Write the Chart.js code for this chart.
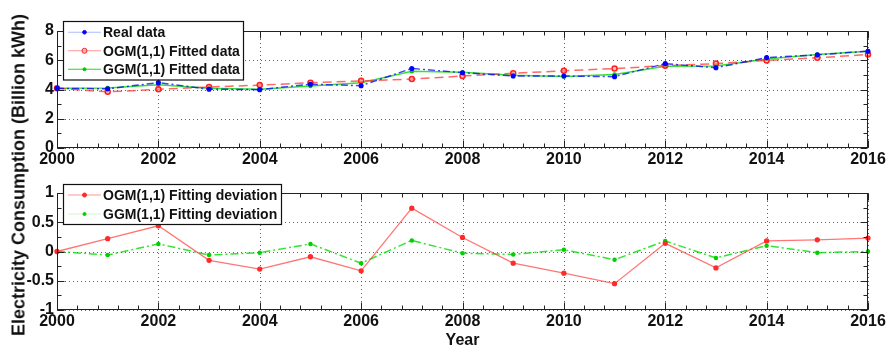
<!DOCTYPE html>
<html>
<head>
<meta charset="utf-8">
<script src="https://cdn.jsdelivr.net/npm/chart.js@4.4.1/dist/chart.umd.min.js"></script>
<style>
  html, body { margin: 0; padding: 0; background: #fff; }
  #wrap { position: relative; width: 889px; height: 350px; overflow: hidden; }
  canvas { position: absolute; left: 0; }
  #top { top: 0; }
  #bottom { top: 170px; }
  #ylab {
    position: absolute; left: 19px; top: 175px;
    transform: translate(-50%, -50%) rotate(-90deg);
    white-space: nowrap;
    font: bold 18px "Liberation Sans", Arial, sans-serif;
    color: #111;
  }
</style>
</head>
<body>
<div id="wrap">
  <canvas id="top" width="889" height="170"></canvas>
  <canvas id="bottom" width="889" height="180"></canvas>
  <div id="ylab">Electricity Consumption (Billion kWh)</div>
</div>
<script>
// Years on the horizontal axis
const years = [2000, 2001, 2002, 2003, 2004, 2005, 2006, 2007, 2008,
               2009, 2010, 2011, 2012, 2013, 2014, 2015, 2016];

// Electricity consumption, billion kWh
const realData = [4.08, 4.05, 4.47, 4.02, 3.99, 4.36, 4.26, 5.44, 5.15,
                  4.92, 4.92, 4.88, 5.77, 5.49, 6.18, 6.37, 6.62];
const ogmFitted = [4.08, 3.84, 4.01, 4.17, 4.30, 4.46, 4.59, 4.71, 4.92,
                   5.11, 5.28, 5.43, 5.63, 5.77, 5.99, 6.17, 6.39];
const ggmFitted = [4.08, 4.11, 4.33, 4.08, 4.01, 4.24, 4.46, 5.25, 5.18,
                   4.97, 4.89, 5.02, 5.59, 5.60, 6.08, 6.39, 6.62];

// Fitting deviations (real minus fitted)
const ogmDeviation = [0.00, 0.22, 0.44, -0.15, -0.30, -0.09, -0.33, 0.74, 0.24,
                      -0.20, -0.37, -0.55, 0.14, -0.28, 0.18, 0.20, 0.23];
const ggmDeviation = [0.00, -0.06, 0.13, -0.06, -0.02, 0.13, -0.20, 0.19, -0.03,
                      -0.05, 0.03, -0.14, 0.18, -0.11, 0.10, -0.02, 0.00];

// Tick values
const xTicks = [2000, 2002, 2004, 2006, 2008, 2010, 2012, 2014, 2016];
const topYTicks = [0, 2, 4, 6, 8];
const bottomYTicks = [-1, -0.5, 0, 0.5, 1];

const FONT = '"Liberation Sans", Arial, sans-serif';
const pts = vals => vals.map((v, i) => ({ x: years[i], y: v }));

// MATLAB-like axes box: dotted grid, inward major/minor ticks, framed legend
const boxPlugin = {
  id: 'matlabBox',
  beforeDatasetsDraw(chart, args, opts) {
    const { ctx, chartArea: a } = chart;
    const xs = chart.scales.x, ys = chart.scales.y;
    ctx.save();
    ctx.strokeStyle = 'rgba(60,60,60,0.8)';
    ctx.lineWidth = 1;
    ctx.setLineDash([1, 3]);
    opts.xMajor.forEach(v => {
      const px = Math.round(xs.getPixelForValue(v)) + 0.5;
      ctx.beginPath(); ctx.moveTo(px, a.top); ctx.lineTo(px, a.bottom); ctx.stroke();
    });
    opts.yMajor.forEach(v => {
      const py = Math.round(ys.getPixelForValue(v)) + 0.5;
      ctx.beginPath(); ctx.moveTo(a.left, py); ctx.lineTo(a.right, py); ctx.stroke();
    });
    ctx.restore();
  },
  afterDatasetsDraw(chart, args, opts) {
    const { ctx, chartArea: a } = chart;
    const xs = chart.scales.x, ys = chart.scales.y;
    ctx.save();
    ctx.setLineDash([]);
    ctx.strokeStyle = '#222';
    ctx.lineWidth = 1;
    const L = Math.round(a.left) + 0.5, R = Math.round(a.right) - 0.5;
    const T = Math.round(a.top) + 0.5, B = Math.round(a.bottom) - 0.5;
    ctx.strokeRect(L, T, R - L, B - T);
    // x ticks
    const xMin = xs.min, xMax = xs.max;
    const nx = Math.round((xMax - xMin) / opts.xMinorStep);
    for (let i = 0; i <= nx; i++) {
      const v = xMin + i * opts.xMinorStep;
      const major = opts.xMajor.some(m => Math.abs(m - v) < 1e-6);
      const len = major ? 7 : 4;
      const px = Math.round(xs.getPixelForValue(v)) + 0.5;
      ctx.beginPath();
      ctx.moveTo(px, B); ctx.lineTo(px, B - len);
      ctx.moveTo(px, T); ctx.lineTo(px, T + len);
      ctx.stroke();
    }
    // y ticks
    const ny = Math.round((ys.max - ys.min) / opts.yMinorStep);
    for (let i = 0; i <= ny; i++) {
      const v = ys.min + i * opts.yMinorStep;
      const major = opts.yMajor.some(m => Math.abs(m - v) < 1e-6);
      const len = major ? 7 : 4;
      const py = Math.round(ys.getPixelForValue(v)) + 0.5;
      ctx.beginPath();
      ctx.moveTo(L, py); ctx.lineTo(L + len, py);
      ctx.moveTo(R, py); ctx.lineTo(R - len, py);
      ctx.stroke();
    }
    // legend
    const lg = opts.legend;
    const rowH = lg.rowHeight;
    const h = rowH * chart.data.datasets.length + lg.pad;
    ctx.fillStyle = '#fff';
    ctx.fillRect(lg.x, lg.y, lg.w, h);
    ctx.strokeStyle = '#111';
    ctx.lineWidth = 1.2;
    ctx.strokeRect(lg.x + 0.5, lg.y + 0.5, lg.w, h);
    ctx.font = 'bold 14px ' + FONT;
    ctx.textBaseline = 'middle';
    chart.data.datasets.forEach((ds, i) => {
      const cy = lg.y + lg.pad / 2 + rowH * i + rowH / 2 + 0.5;
      const x0 = lg.x + 5, x1 = lg.x + 38;
      ctx.save();
      ctx.strokeStyle = ds.legendLine || ds.borderColor;
      ctx.lineWidth = 1.2;
      ctx.setLineDash([]);
      ctx.beginPath(); ctx.moveTo(x0, cy); ctx.lineTo(x1, cy); ctx.stroke();
      if (ds.pointRadius > 0) {
        ctx.fillStyle = ds.pointBackgroundColor;
        ctx.strokeStyle = ds.pointBorderColor;
        ctx.lineWidth = 1;
        ctx.beginPath(); ctx.arc((x0 + x1) / 2, cy, ds.pointRadius, 0, Math.PI * 2);
        ctx.fill(); ctx.stroke();
      }
      ctx.restore();
      ctx.fillStyle = '#111';
      ctx.fillText(ds.label, lg.x + 40, cy + 1);
    });
    ctx.restore();
  }
};

function axisCfg(opts) {
  return {
    x: {
      type: 'linear', min: 2000, max: 2016,
      afterBuildTicks: s => { s.ticks = xTicks.map(v => ({ value: v })); },
      afterFit: s => { s.height = opts.xHeight; },
      grid: { display: false, drawTicks: false },
      border: { display: false },
      ticks: {
        padding: 2, color: '#111', maxRotation: 0, autoSkip: false,
        font: { family: FONT, size: 16, weight: 'bold' },
        callback: v => String(v)
      },
      title: opts.xTitle ? {
        display: true, text: opts.xTitle, color: '#111', padding: { top: -3, bottom: 0 },
        font: { family: FONT, size: 16, weight: 'bold' }
      } : { display: false }
    },
    y: {
      type: 'linear', min: opts.yMin, max: opts.yMax,
      afterBuildTicks: s => { s.ticks = opts.yTicks.map(v => ({ value: v })); },
      afterFit: s => { s.width = 57; },
      grid: { display: false, drawTicks: false },
      border: { display: false },
      ticks: {
        padding: 3, color: '#111',
        font: { family: FONT, size: 16, weight: 'bold' },
        callback: v => String(v)
      }
    }
  };
}

new Chart(document.getElementById('top'), {
  type: 'line',
  data: {
    datasets: [
      {
        label: 'Real data', data: pts(realData),
        borderColor: 'rgba(0,0,255,0.75)', borderWidth: 1.5, borderDash: [7, 3, 2, 3],
        legendLine: 'rgba(120,140,255,0.6)',
        pointRadius: 1.8, pointBackgroundColor: '#0000ff', pointBorderColor: '#0000ff'
      },
      {
        label: 'OGM(1,1) Fitted data', data: pts(ogmFitted),
        borderColor: 'rgba(255,40,40,0.7)', borderWidth: 1.5, borderDash: [9, 5],
        legendLine: 'rgba(255,110,110,0.7)',
        pointRadius: 2.5, pointBackgroundColor: 'rgba(255,150,150,0.6)', pointBorderColor: '#ff2020'
      },
      {
        label: 'GGM(1,1) Fitted data', data: pts(ggmFitted),
        borderColor: 'rgba(0,220,0,0.8)', borderWidth: 1.5, borderDash: [],
        legendLine: 'rgba(0,220,0,0.9)',
        pointRadius: 1.5, pointBackgroundColor: '#00c800', pointBorderColor: '#00c800'
      }
    ]
  },
  options: {
    responsive: false, animation: false, clip: 4,
    layout: { padding: { top: 31, right: 21, left: 0, bottom: 0 } },
    scales: axisCfg({ xHeight: 22, yMin: 0, yMax: 8, yTicks: topYTicks }),
    plugins: {
      legend: { display: false }, tooltip: { enabled: false },
      matlabBox: {
        xMajor: xTicks, yMajor: topYTicks, xMinorStep: 0.4, yMinorStep: 1,
        legend: { x: 63, y: 21, w: 180, rowHeight: 18.5, pad: 3 }
      }
    }
  },
  plugins: [boxPlugin]
});

new Chart(document.getElementById('bottom'), {
  type: 'line',
  data: {
    datasets: [
      {
        label: 'OGM(1,1) Fitting deviation', data: pts(ogmDeviation),
        borderColor: 'rgba(255,60,60,0.7)', borderWidth: 1.3, borderDash: [],
        legendLine: 'rgba(255,110,110,0.7)',
        pointRadius: 2, pointBackgroundColor: '#ff2a2a', pointBorderColor: '#ff2a2a'
      },
      {
        label: 'GGM(1,1) Fitting deviation', data: pts(ggmDeviation),
        borderColor: 'rgba(0,220,0,0.8)', borderWidth: 1.5, borderDash: [8, 3, 2, 3],
        legendLine: 'rgba(160,240,160,0.5)',
        pointRadius: 1.5, pointBackgroundColor: '#00d000', pointBorderColor: '#00d000'
      }
    ]
  },
  options: {
    responsive: false, animation: false, clip: 4,
    layout: { padding: { top: 23, right: 21, left: 0, bottom: 0 } },
    scales: axisCfg({ xHeight: 40, yMin: -1, yMax: 1, yTicks: bottomYTicks, xTitle: 'Year' }),
    plugins: {
      legend: { display: false }, tooltip: { enabled: false },
      matlabBox: {
        xMajor: xTicks, yMajor: bottomYTicks, xMinorStep: 0.4, yMinorStep: 0.25,
        legend: { x: 63, y: 14, w: 218, rowHeight: 19, pad: 2 }
      }
    }
  },
  plugins: [boxPlugin]
});
</script>
</body>
</html>
